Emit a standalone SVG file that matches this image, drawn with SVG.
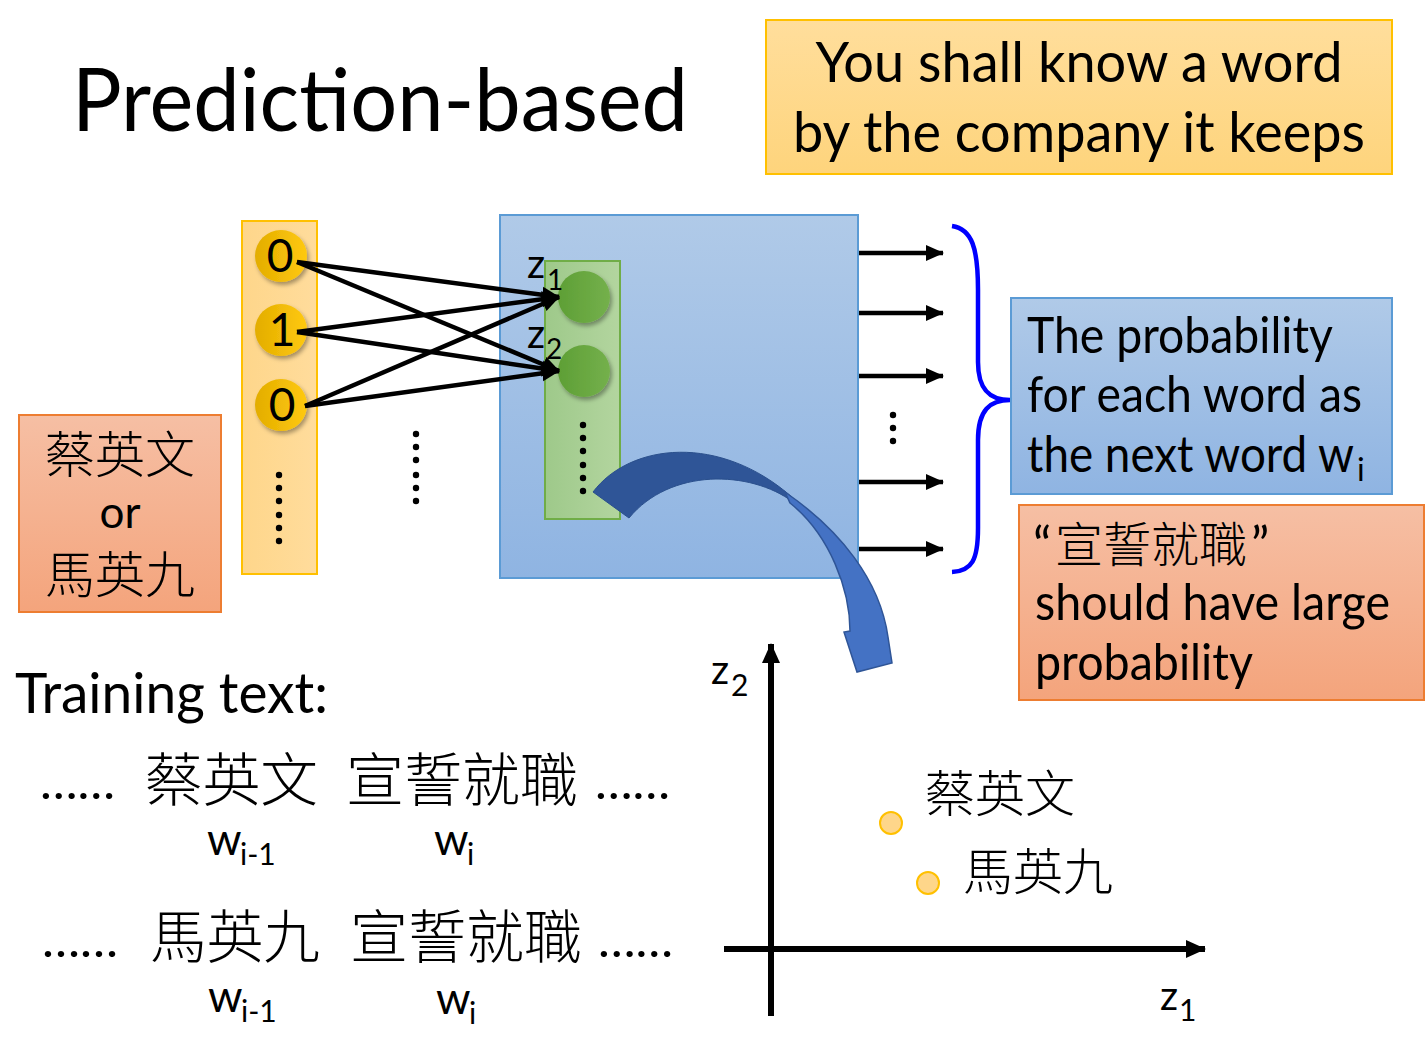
<svg xmlns="http://www.w3.org/2000/svg" width="1425" height="1040" viewBox="0 0 1425 1040">
<defs>
<style>
.lat{font-family:Lato,"Liberation Sans",sans-serif;fill:#000}
.cjk{font-family:"Noto Sans CJK TC","Noto Sans CJK SC",serif;fill:#000;font-weight:300}
.wire{stroke:#000;stroke-width:4.5;fill:none}
.dot{fill:#000}
</style>
<linearGradient id="gBlue" x1="0" y1="0" x2="0" y2="1"><stop offset="0" stop-color="#b0cae8"/><stop offset="1" stop-color="#8fb4e2"/></linearGradient>
<linearGradient id="gOrange" x1="0" y1="0" x2="0" y2="1"><stop offset="0" stop-color="#f6bfa4"/><stop offset="1" stop-color="#f4a47c"/></linearGradient>
<linearGradient id="gYellowBox" x1="0" y1="0" x2="0" y2="1"><stop offset="0" stop-color="#ffde9c"/><stop offset="1" stop-color="#fed47c"/></linearGradient>
<linearGradient id="gYellowCol" x1="0" y1="0" x2="1" y2="0"><stop offset="0" stop-color="#fed68a"/><stop offset="1" stop-color="#ffdc9c"/></linearGradient>
<linearGradient id="gGreenCol" x1="0" y1="0" x2="1" y2="0"><stop offset="0" stop-color="#9ec98a"/><stop offset="1" stop-color="#b3d59f"/></linearGradient>
<linearGradient id="gYel" x1="0" y1="0" x2="1" y2="0"><stop offset="0" stop-color="#e3ad00"/><stop offset="1" stop-color="#ffc90f"/></linearGradient>
<linearGradient id="gGrn" x1="0" y1="0" x2="1" y2="0"><stop offset="0" stop-color="#5e9f35"/><stop offset="1" stop-color="#74b04c"/></linearGradient>
<filter id="sh" x="-30%" y="-30%" width="170%" height="170%"><feDropShadow dx="2" dy="3" stdDeviation="2" flood-color="#000" flood-opacity="0.35"/></filter>
<marker id="ah" markerUnits="userSpaceOnUse" markerWidth="18" markerHeight="18" viewBox="0 0 18 18" refX="17" refY="9" orient="auto"><path d="M0,1 L18,9 L0,17 Z" fill="#000"/></marker>
<marker id="ax" markerUnits="userSpaceOnUse" markerWidth="20" markerHeight="20" viewBox="0 0 20 20" refX="19" refY="10" orient="auto"><path d="M0,1 L20,10 L0,19 Z" fill="#000"/></marker>
</defs>
<rect width="1425" height="1040" fill="#fff"/>

<g id="title"><text class="lat" x="72" y="131" font-size="88" textLength="616" lengthAdjust="spacingAndGlyphs">Prediction-based</text></g>

<g id="quote-box">
<rect x="766" y="20" width="626" height="154" fill="url(#gYellowBox)" stroke="#ffc000" stroke-width="2"/>
<text class="lat" x="1079" y="82" font-size="56" text-anchor="middle" textLength="527" lengthAdjust="spacingAndGlyphs">You shall know a word</text>
<text class="lat" x="1079" y="152" font-size="56" text-anchor="middle" textLength="572" lengthAdjust="spacingAndGlyphs">by the company it keeps</text>
</g>

<g id="input-word">
<rect x="19" y="415" width="202" height="197" fill="url(#gOrange)" stroke="#ed7d31" stroke-width="2"/>
<text class="cjk" x="120" y="473" font-size="50" text-anchor="middle">蔡英文</text>
<text class="lat" x="120" y="528" font-size="44" text-anchor="middle">or</text>
<text class="cjk" x="120" y="593" font-size="50" text-anchor="middle">馬英九</text>
</g>

<g id="one-hot">
<rect x="242" y="221" width="75" height="353" fill="url(#gYellowCol)" stroke="#ffc000" stroke-width="2"/>
<circle cx="281" cy="256" r="26" fill="url(#gYel)" filter="url(#sh)"/>
<circle cx="281" cy="330" r="26" fill="url(#gYel)" filter="url(#sh)"/>
<circle cx="281" cy="405" r="26" fill="url(#gYel)" filter="url(#sh)"/>
<text class="lat" x="280" y="272" font-size="46" text-anchor="middle">0</text>
<text class="lat" x="282" y="346" font-size="46" text-anchor="middle">1</text>
<text class="lat" x="282" y="421" font-size="46" text-anchor="middle">0</text>
<circle class="dot" cx="279" cy="475" r="3.2"/><circle class="dot" cx="279" cy="488" r="3.2"/><circle class="dot" cx="279" cy="501" r="3.2"/><circle class="dot" cx="279" cy="515" r="3.2"/><circle class="dot" cx="279" cy="528" r="3.2"/><circle class="dot" cx="279" cy="541" r="3.2"/>
</g>

<g id="mid-dots">
<circle class="dot" cx="416" cy="434" r="3.2"/><circle class="dot" cx="416" cy="447" r="3.2"/><circle class="dot" cx="416" cy="460" r="3.2"/><circle class="dot" cx="416" cy="475" r="3.2"/><circle class="dot" cx="416" cy="488" r="3.2"/><circle class="dot" cx="416" cy="501" r="3.2"/>
</g>

<g id="network">
<rect x="500" y="215" width="358" height="363" fill="url(#gBlue)" stroke="#5b9bd5" stroke-width="2"/>
<rect x="545" y="261" width="75" height="258" fill="url(#gGreenCol)" stroke="#70ad47" stroke-width="2"/>
<circle cx="584" cy="297" r="26" fill="url(#gGrn)" filter="url(#sh)"/>
<circle cx="584" cy="371" r="26" fill="url(#gGrn)" filter="url(#sh)"/>
<text class="lat" x="527" y="278" font-size="40">z<tspan x="547" dy="12" font-size="28">1</tspan></text>
<text class="lat" x="527" y="348" font-size="40">z<tspan x="546" dy="11" font-size="28">2</tspan></text>
<circle class="dot" cx="583" cy="425" r="3.2"/><circle class="dot" cx="583" cy="438" r="3.2"/><circle class="dot" cx="583" cy="451" r="3.2"/><circle class="dot" cx="583" cy="465" r="3.2"/><circle class="dot" cx="583" cy="478" r="3.2"/><circle class="dot" cx="583" cy="491" r="3.2"/>
</g>

<g id="connectors">
<line class="wire" x1="297" y1="262" x2="559" y2="297" marker-end="url(#ah)"/>
<line class="wire" x1="297" y1="262" x2="559" y2="371" marker-end="url(#ah)"/>
<line class="wire" x1="297" y1="332" x2="559" y2="297" marker-end="url(#ah)"/>
<line class="wire" x1="297" y1="332" x2="559" y2="371" marker-end="url(#ah)"/>
<line class="wire" x1="305" y1="406" x2="559" y2="297" marker-end="url(#ah)"/>
<line class="wire" x1="305" y1="406" x2="559" y2="371" marker-end="url(#ah)"/>
<line class="wire" x1="859" y1="253" x2="943" y2="253" marker-end="url(#ah)"/>
<line class="wire" x1="859" y1="313" x2="943" y2="313" marker-end="url(#ah)"/>
<line class="wire" x1="859" y1="376" x2="943" y2="376" marker-end="url(#ah)"/>
<line class="wire" x1="859" y1="482" x2="943" y2="482" marker-end="url(#ah)"/>
<line class="wire" x1="859" y1="549" x2="943" y2="549" marker-end="url(#ah)"/>
<path d="M952,226 C972,229 978,248 978,290 L978,362 C978,390 990,400 1010,400 C990,400 978,410 978,440 L978,528 C978,560 972,571 952,572" fill="none" stroke="#0000ff" stroke-width="4.5"/>
</g>

<g id="out-dots">
<circle class="dot" cx="893" cy="415" r="3.2"/><circle class="dot" cx="893" cy="428" r="3.2"/><circle class="dot" cx="893" cy="441" r="3.2"/>
</g>

<g id="prob-box">
<rect x="1011" y="298" width="381" height="196" fill="url(#gBlue)" stroke="#5b9bd5" stroke-width="2"/>
<text class="lat" x="1027" y="353" font-size="50" textLength="306" lengthAdjust="spacingAndGlyphs">The probability</text>
<text class="lat" x="1027" y="412" font-size="50" textLength="335" lengthAdjust="spacingAndGlyphs">for each word as</text>
<text class="lat" x="1027" y="472" font-size="50"><tspan textLength="327" lengthAdjust="spacingAndGlyphs">the next word w</tspan><tspan x="1357" dy="9" font-size="32">i</tspan></text>
</g>

<g id="target-box">
<rect x="1019" y="505" width="405" height="195" fill="url(#gOrange)" stroke="#ed7d31" stroke-width="2"/>
<text x="1033" y="563"><tspan class="lat" font-size="50">“</tspan><tspan class="cjk" x="1055" y="562" font-size="48">宣誓就職</tspan><tspan class="lat" x="1251" y="563" font-size="50">”</tspan></text>
<text class="lat" x="1035" y="620" font-size="50" textLength="355" lengthAdjust="spacingAndGlyphs">should have large</text>
<text class="lat" x="1035" y="680" font-size="50" textLength="218" lengthAdjust="spacingAndGlyphs">probability</text>
</g>

<g id="curved-arrow">
<path d="M593,492 C630,443 720,433 793,498 L793,502 C750,470 670,468 629,518 Z" fill="#2f5597" stroke="#2a4f8c" stroke-width="1"/>
<path d="M785,492 C840,530 880,580 888,637 L892,663 L857,672 L844,632 L850,631 C850,590 830,535 790,503 Z" fill="#4472c4" stroke="#2f5597" stroke-width="1.5"/>
</g>

<g id="training">
<text class="lat" x="15" y="713" font-size="57" textLength="313" lengthAdjust="spacingAndGlyphs">Training text:</text>
<text class="lat" x="40" y="799" font-size="48" textLength="75" lengthAdjust="spacingAndGlyphs">……</text>
<text class="cjk" x="145" y="801" font-size="58" textLength="173" lengthAdjust="spacingAndGlyphs">蔡英文</text>
<text class="cjk" x="346" y="801" font-size="58" textLength="232" lengthAdjust="spacingAndGlyphs">宣誓就職</text>
<text class="lat" x="595" y="799" font-size="48" textLength="75" lengthAdjust="spacingAndGlyphs">……</text>
<text class="lat" x="207" y="855" font-size="44">w<tspan x="240" dy="10" font-size="30">i-1</tspan></text>
<text class="lat" x="434" y="855" font-size="44">w<tspan x="467" dy="10" font-size="30">i</tspan></text>
<text class="lat" x="42" y="957" font-size="48" textLength="76" lengthAdjust="spacingAndGlyphs">……</text>
<text class="cjk" x="150" y="958" font-size="58" textLength="170" lengthAdjust="spacingAndGlyphs">馬英九</text>
<text class="cjk" x="350" y="958" font-size="58" textLength="232" lengthAdjust="spacingAndGlyphs">宣誓就職</text>
<text class="lat" x="598" y="957" font-size="48" textLength="75" lengthAdjust="spacingAndGlyphs">……</text>
<text class="lat" x="208" y="1012" font-size="44">w<tspan x="241" dy="10" font-size="30">i-1</tspan></text>
<text class="lat" x="436" y="1014" font-size="44">w<tspan x="469" dy="10" font-size="30">i</tspan></text>
</g>

<g id="embedding-plot">
<line x1="771" y1="1016" x2="771" y2="644" stroke="#000" stroke-width="6" marker-end="url(#ax)"/>
<line x1="724" y1="949" x2="1205" y2="949" stroke="#000" stroke-width="6" marker-end="url(#ax)"/>
<text class="lat" x="711" y="684" font-size="40">z<tspan x="731" dy="12" font-size="30">2</tspan></text>
<text class="lat" x="1160" y="1010" font-size="40">z<tspan x="1179" dy="11" font-size="30">1</tspan></text>
<circle cx="891" cy="823" r="11" fill="#fed68a" stroke="#ffc000" stroke-width="2"/>
<circle cx="928" cy="883" r="11" fill="#fed68a" stroke="#ffc000" stroke-width="2"/>
<text class="cjk" x="925" y="812" font-size="50">蔡英文</text>
<text class="cjk" x="963" y="890" font-size="50">馬英九</text>
</g>
</svg>
